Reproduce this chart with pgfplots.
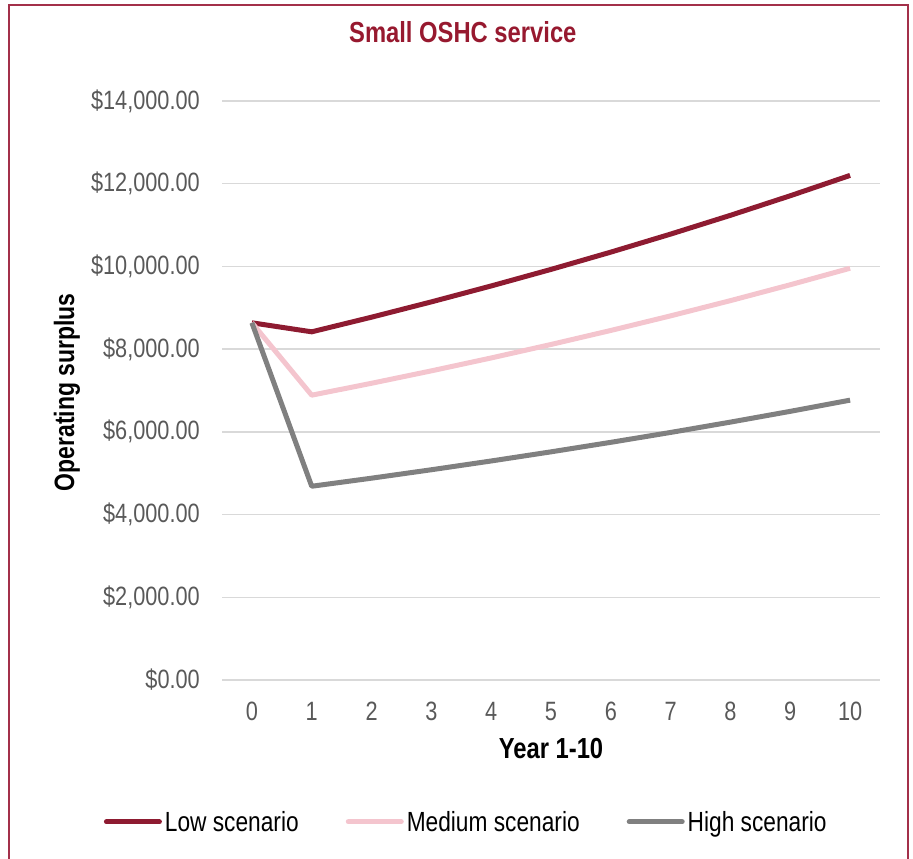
\documentclass[border=0pt]{standalone}
\usepackage{pgfplots}
\pgfplotsset{compat=1.18}
\usepackage{fontspec}
\setmainfont{Liberation Sans}[FakeStretch=0.82]

\definecolor{lowc}{HTML}{8E1B31}
\definecolor{medc}{HTML}{F4C5CE}
\definecolor{highc}{HTML}{808080}
\definecolor{framec}{HTML}{A3304A}
\definecolor{titlec}{HTML}{97192F}
\definecolor{gridc}{HTML}{D9D9D9}
\definecolor{tickc}{HTML}{595959}

\begin{document}
\begin{tikzpicture}
\path[use as bounding box] (0pt,0pt) rectangle (913pt,-859pt);
\draw[framec, line width=2pt] (9pt,-880pt) -- (9pt,-5pt) -- (908pt,-5pt) -- (908pt,-880pt);
\begin{axis}[
  at={(222pt,-680pt)}, anchor=south west,
  scale only axis, width=658pt, height=579pt,
  xmin=-0.5, xmax=10.5, ymin=0, ymax=14000,
  axis line style={draw=none},
  tick style={draw=none},
  scaled y ticks=false,
  ymajorgrids, grid style={color=gridc, line width=1.5pt},
  xtick={0,1,...,10},
  ytick={0,2000,4000,6000,8000,10000,12000,14000},
  yticklabels={\$0.00,{\$2,000.00},{\$4,000.00},{\$6,000.00},{\$8,000.00},{\$10,000.00},{\$12,000.00},{\$14,000.00}},
  /pgf/number format/assume math mode=true,
  ticklabel style={font=\fontsize{26.5}{30}\selectfont, text=tickc},
  yticklabel style={inner sep=0pt, anchor=east, xshift=-22pt},
  xticklabel style={inner sep=0pt, anchor=north, yshift=-22pt},
  title={Small OSHC service},
  title style={at={(axis description cs:0.366,1.108)}, anchor=center, font=\fontsize{29}{34}\selectfont\bfseries, text=titlec},
  xlabel={Year 1-10},
  xlabel style={at={(axis description cs:0.5,-0.119)}, anchor=center, font=\fontsize{29}{34}\selectfont\bfseries},
  ylabel={Operating surplus},
  ylabel style={at={(axis description cs:-0.2356,0.497)}, anchor=center, rotate=0, font=\fontsize{28}{32}\selectfont\bfseries},
  legend columns=3,
  legend style={at={(axis description cs:0.372,-0.245)}, anchor=center, draw=none, fill=none,
    font=\fontsize{27.7}{32}\selectfont, column sep=0pt,
    nodes={inner sep=3pt},
    /tikz/every even column/.append style={column sep=44pt}},
  legend image code/.code={\draw[#1, line cap=round] (0pt,0pt) -- (53pt,0pt);},
  every axis plot/.append style={line width=5pt, line join=round},
]
\addplot[lowc] coordinates {(0,8637) (1,8419) (2,8773) (3,9143) (4,9528) (5,9928) (6,10346) (7,10782) (8,11236) (9,11709) (10,12201)};
\addlegendentry{Low scenario}
\addplot[medc] coordinates {(0,8637) (1,6887) (2,7175) (3,7475) (4,7787) (5,8113) (6,8452) (7,8805) (8,9173) (9,9557) (10,9956)};
\addlegendentry{Medium scenario}
\addplot[highc] coordinates {(0,8637) (1,4685) (2,4880) (3,5084) (4,5296) (5,5517) (6,5747) (7,5986) (8,6236) (9,6496) (10,6767)};
\addlegendentry{High scenario}
\end{axis}
\end{tikzpicture}
\end{document}
